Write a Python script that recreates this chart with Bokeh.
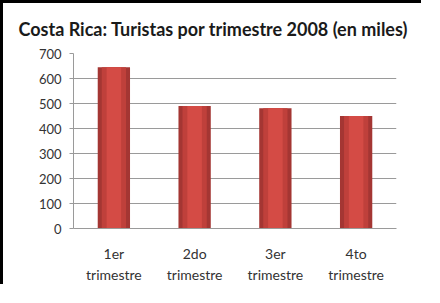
from bokeh.plotting import figure
from bokeh.models import FactorRange, Range1d, FixedTicker
from bokeh.embed import file_html
from bokeh.resources import INLINE

title = "Costa Rica: Turistas por trimestre 2008 (en miles)"
categories = ["1er\ntrimestre", "2do\ntrimestre", "3er\ntrimestre", "4to\ntrimestre"]
turistas = [645, 490, 481, 450]
y_ticks = [0, 100, 200, 300, 400, 500, 600, 700]

p = figure(
    width=421, height=284,
    x_range=FactorRange(*categories, range_padding=0),
    y_range=Range1d(0, 700),
    output_backend="svg", toolbar_location=None,
    min_border_left=70, min_border_right=28,
    min_border_top=50, min_border_bottom=59,
    title=title,
)
p.styles = {"border-left": "3px solid black", "border-top": "3px solid black"}

p.title.text_font = "Lato"
p.title.text_font_size = "18px"
p.title.text_font_style = "bold"
p.title.text_color = "#1a1a1a"
p.title.align = "left"
p.title.vertical_align = "top"
p.title.offset = -55
p.title.standoff = 24

p.outline_line_color = None
p.background_fill_color = "white"
p.border_fill_color = "white"

# bars with layered shading
p.vbar(x=categories, top=turistas, width=0.4, fill_color="#a43633", line_color=None)
p.vbar(x=categories, top=turistas, width=0.3, fill_color="#bf403b", line_color=None)
p.vbar(x=categories, top=turistas, width=0.18, fill_color="#d44b45", line_color=None)

p.xgrid.grid_line_color = None
p.ygrid.grid_line_color = "#9a9a9a"
p.ygrid.grid_line_width = 1
p.yaxis.ticker = FixedTicker(ticks=y_ticks)

p.yaxis.axis_line_color = "#9a9a9a"
p.yaxis.major_tick_line_color = "#9a9a9a"
p.yaxis.major_tick_out = 4
p.yaxis.major_tick_in = 0
p.yaxis.minor_tick_line_color = None
p.yaxis.major_label_standoff = 8
p.yaxis.major_label_text_font = "Lato"
p.yaxis.major_label_text_font_size = "13px"
p.yaxis.major_label_text_color = "#333333"

p.xaxis.axis_line_color = "#9a9a9a"
p.xaxis.major_tick_line_color = None
p.xaxis.major_label_standoff = 10
p.xaxis.major_label_text_font = "Lato"
p.xaxis.major_label_text_font_size = "14px"
p.xaxis.major_label_text_color = "#333333"
p.xaxis.major_label_text_line_height = 1.25

open("out.html", "w").write(file_html(p, INLINE))
